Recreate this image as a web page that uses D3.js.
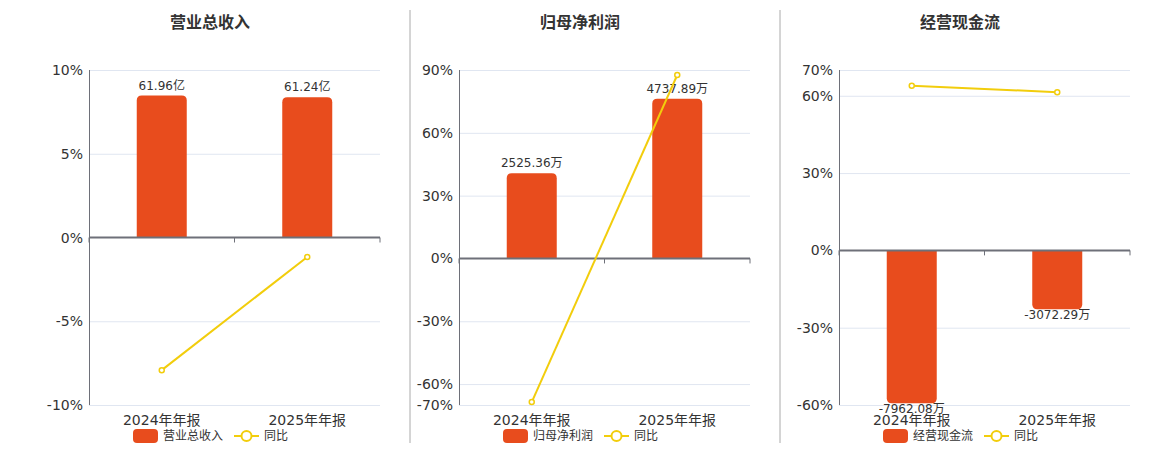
<!DOCTYPE html>
<html>
<head>
<meta charset="utf-8">
<script src="https://cdn.jsdelivr.net/npm/d3@7/dist/d3.min.js"></script>
<style>
  body { margin: 0; background: #fff; }
  svg text { font-family: "DejaVu Sans", "Noto Sans CJK SC", sans-serif; }
</style>
</head>
<body>
<svg id="chart" width="1160" height="450"></svg>
<script>
// Data
var categories = ["2024年年报", "2025年年报"];
var titles = ["营业总收入", "归母净利润", "经营现金流"];
var barValues = [[61.96, 61.24], [2525.36, 4737.89], [-7962.08, -3072.29]];
var barLabels = [["61.96亿", "61.24亿"], ["2525.36万", "4737.89万"], ["-7962.08万", "-3072.29万"]];
var yoyValues = [[-7.92, -1.16], [-68.6, 87.6], [63.9, 61.4]];
var yoyTicks = [[10, 5, 0, -5, -10], [90, 60, 30, 0, -30, -60, -70], [70, 60, 30, 0, -30, -60]];
var yoyName = "同比";

// Layout
var plotLeft = [89, 459, 839];
var plotWidth = 291;
var plotTop = 70, plotBottom = 405;
var titleX = [210, 580, 960];
var dividers = [410, 780];

var barColor = "#e84c1d";
var lineColor = "#f2cd0c";

var svg = d3.select("#chart");

dividers.forEach(function(x) {
    svg.append("line")
       .attr("x1", x).attr("x2", x)
       .attr("y1", 10).attr("y2", 443)
       .attr("stroke", "#aaa").attr("stroke-width", 1);
});

for (var i = 0; i < 3; i++) {
    var g = svg.append("g");
    var left = plotLeft[i];
    var ticks = yoyTicks[i];
    var yMin = d3.min(ticks), yMax = d3.max(ticks);

    var yScale = d3.scaleLinear().domain([yMin, yMax]).range([plotBottom, plotTop]);

    // bar axis shares the zero line with the percent axis
    var maxAbs = d3.max(barValues[i], function(d) { return Math.abs(d); }) * 1.18;
    var barMin, barMax;
    if (Math.abs(yMax) >= Math.abs(yMin)) {
        barMax = maxAbs; barMin = maxAbs * yMin / yMax;
    } else {
        barMin = -maxAbs; barMax = maxAbs * yMax / -yMin;
    }
    var barScale = d3.scaleLinear().domain([barMin, barMax]).range([plotBottom, plotTop]);

    var xScale = d3.scaleBand().domain(categories).range([left, left + plotWidth]);

    // title
    g.append("text")
     .attr("x", titleX[i]).attr("y", 28)
     .attr("text-anchor", "middle")
     .attr("font-size", 16).attr("font-weight", "bold")
     .attr("fill", "#333")
     .text(titles[i]);

    // grid lines
    g.selectAll(".grid")
     .data(ticks.filter(function(t) { return t !== 0; }))
     .enter().append("line")
     .attr("x1", left).attr("x2", left + plotWidth)
     .attr("y1", function(d) { return yScale(d) + 0.5; })
     .attr("y2", function(d) { return yScale(d) + 0.5; })
     .attr("stroke", "#e0e6f1");

    // y labels
    g.selectAll(".ylab")
     .data(ticks)
     .enter().append("text")
     .attr("x", left - 6)
     .attr("y", function(d) { return yScale(d); })
     .attr("dy", "0.36em")
     .attr("text-anchor", "end")
     .attr("font-size", 14)
     .attr("fill", "#333")
     .text(function(d) { return d + "%"; });

    // y axis line
    g.append("line")
     .attr("x1", left + 0.5).attr("x2", left + 0.5)
     .attr("y1", plotTop).attr("y2", plotBottom)
     .attr("stroke", "#6e7079");

    // bars
    g.selectAll(".bar")
     .data(barValues[i])
     .enter().append("path")
     .attr("fill", barColor)
     .attr("d", function(d, j) {
         var bw = 50, r = 5;
         var cx = xScale(categories[j]) + xScale.bandwidth() / 2;
         var x0 = cx - bw / 2, x1 = cx + bw / 2;
         var y0 = barScale(0), y1 = barScale(d);
         if (d >= 0) {
             return "M" + x0 + "," + y0 + "V" + (y1 + r) + "Q" + x0 + "," + y1 + " " + (x0 + r) + "," + y1 +
                    "H" + (x1 - r) + "Q" + x1 + "," + y1 + " " + x1 + "," + (y1 + r) + "V" + y0 + "Z";
         }
         return "M" + x0 + "," + y0 + "V" + (y1 - r) + "Q" + x0 + "," + y1 + " " + (x0 + r) + "," + y1 +
                "H" + (x1 - r) + "Q" + x1 + "," + y1 + " " + x1 + "," + (y1 - r) + "V" + y0 + "Z";
     });

    // bar labels
    g.selectAll(".blab")
     .data(barValues[i])
     .enter().append("text")
     .attr("x", function(d, j) { return xScale(categories[j]) + xScale.bandwidth() / 2; })
     .attr("y", function(d) { return d >= 0 ? barScale(d) - 6 : barScale(d) + 10; })
     .attr("text-anchor", "middle")
     .attr("font-size", 12)
     .attr("fill", "#333")
     .text(function(d, j) { return barLabels[i][j]; });

    // x axis on zero line
    var zy = yScale(0);
    g.append("line")
     .attr("x1", left).attr("x2", left + plotWidth)
     .attr("y1", zy).attr("y2", zy)
     .attr("stroke", "#6e7079").attr("stroke-width", 2);
    var bounds = [left, left + xScale.bandwidth(), left + plotWidth];
    g.selectAll(".xtick")
     .data(bounds)
     .enter().append("line")
     .attr("x1", function(d) { return d; }).attr("x2", function(d) { return d; })
     .attr("y1", zy).attr("y2", zy + 5)
     .attr("stroke", "#6e7079");

    // x labels
    g.selectAll(".xlab")
     .data(categories)
     .enter().append("text")
     .attr("x", function(d) { return xScale(d) + xScale.bandwidth() / 2; })
     .attr("y", plotBottom + 20)
     .attr("text-anchor", "middle")
     .attr("font-size", 14)
     .attr("fill", "#333")
     .text(function(d) { return d; });

    // yoy line
    var line = d3.line()
        .x(function(d, j) { return xScale(categories[j]) + xScale.bandwidth() / 2; })
        .y(function(d) { return yScale(d); });
    g.append("path")
     .datum(yoyValues[i])
     .attr("d", line)
     .attr("fill", "none")
     .attr("stroke", lineColor)
     .attr("stroke-width", 2);
    g.selectAll(".pt")
     .data(yoyValues[i])
     .enter().append("circle")
     .attr("cx", function(d, j) { return xScale(categories[j]) + xScale.bandwidth() / 2; })
     .attr("cy", function(d) { return yScale(d); })
     .attr("r", 2.5)
     .attr("fill", "#fff")
     .attr("stroke", lineColor)
     .attr("stroke-width", 1.5);

    // legend
    var lx = titleX[i] - 77, ly = 436;
    g.append("rect")
     .attr("x", lx).attr("y", ly - 7)
     .attr("width", 25).attr("height", 14)
     .attr("rx", 4)
     .attr("fill", barColor);
    g.append("text")
     .attr("x", lx + 30).attr("y", ly)
     .attr("dy", "0.36em")
     .attr("font-size", 12).attr("fill", "#333")
     .text(titles[i]);
    var lx2 = lx + 101;
    g.append("line")
     .attr("x1", lx2).attr("x2", lx2 + 25)
     .attr("y1", ly).attr("y2", ly)
     .attr("stroke", lineColor).attr("stroke-width", 2);
    g.append("circle")
     .attr("cx", lx2 + 12.5).attr("cy", ly)
     .attr("r", 5)
     .attr("fill", "#fff")
     .attr("stroke", lineColor).attr("stroke-width", 2);
    g.append("text")
     .attr("x", lx2 + 30).attr("y", ly)
     .attr("dy", "0.36em")
     .attr("font-size", 12).attr("fill", "#333")
     .text(yoyName);
}
</script>
</body>
</html>
